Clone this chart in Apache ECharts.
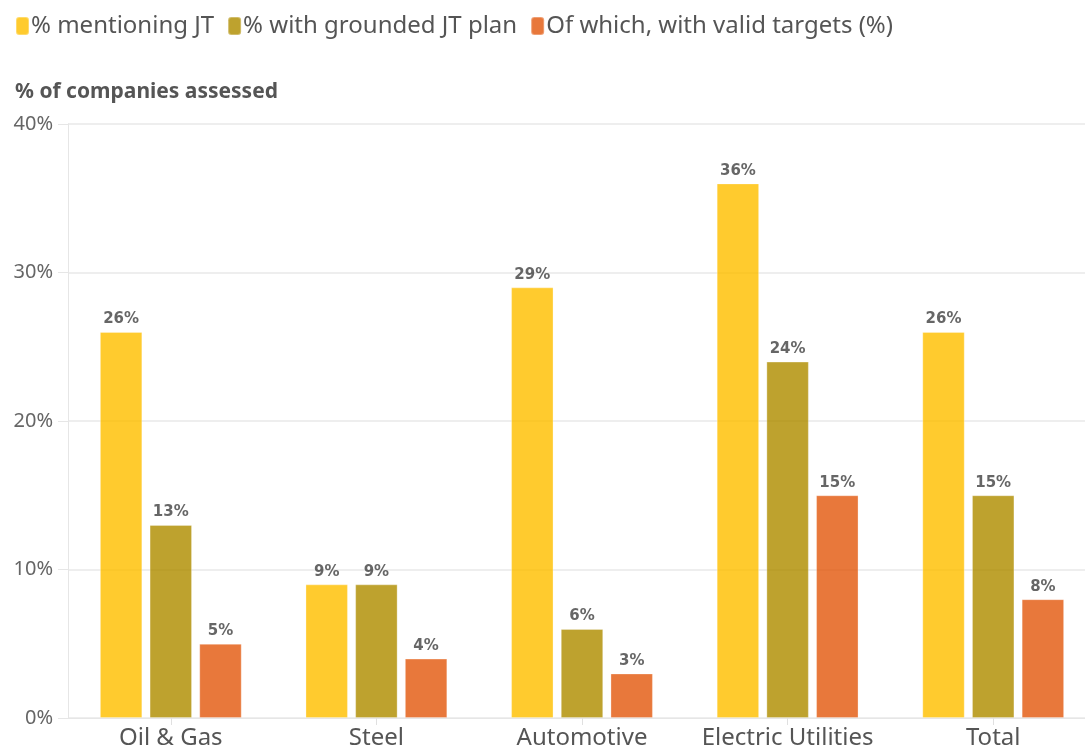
<!DOCTYPE html>
<html>
<head>
<meta charset="utf-8">
<style>
  html, body { margin: 0; padding: 0; background: #fff; overflow: hidden; }
  /* the plot runs slightly past the right edge of the window */
  #chart { width: 1097px; height: 753px; }
</style>
<script src="https://cdn.jsdelivr.net/npm/echarts@6/dist/echarts.min.js"></script>
</head>
<body>
<div id="chart"></div>
<script>
// Sectors and share of companies (%) for each just-transition measure
const categories = ['Oil & Gas', 'Steel', 'Automotive', 'Electric Utilities', 'Total'];
const mentioningJT = [26, 9, 29, 36, 26];
const groundedPlan = [13, 9, 6, 24, 15];
const validTargets = [5, 4, 3, 15, 8];
const yTicks = [0, 10, 20, 30, 40];

const seriesNames = ['% mentioning JT', '% with grounded JT plan', 'Of which, with valid targets (%)'];
const colors = ['#FFC000', '#B08D00', '#E35A10'];
const FONT = '"Noto Sans", "Open Sans", sans-serif';
const LABEL_FONT = '"DejaVu Sans", "Noto Sans", sans-serif';

const chart = echarts.init(document.getElementById('chart'));

function barSeries(name, data, color) {
  return {
    name: name,
    type: 'bar',
    data: data,
    barGap: '17%',
    barCategoryGap: '31%',
    itemStyle: { color: color, opacity: 0.82, borderColor: 'rgba(255,255,255,0.35)', borderWidth: 1 },
    emphasis: { disabled: true },
    label: {
      show: true,
      position: 'top',
      distance: 5,
      formatter: p => p.value + '%',
      fontFamily: LABEL_FONT,
      fontWeight: 'bold',
      fontSize: 15,
      color: '#444'
    }
  };
}

chart.setOption({
  animation: false,
  color: colors,
  textStyle: { fontFamily: FONT },
  legend: {
    left: 10,
    top: 9,
    itemWidth: 13,
    itemHeight: 18,
    itemGap: 13,
    icon: 'roundRect',
    textStyle: { fontSize: 24, color: '#555', fontFamily: FONT, padding: [0, 0, 0, -3] },
    data: seriesNames
  },
  title: {
    text: '% of companies assessed',
    left: 10,
    top: 77,
    textStyle: { fontSize: 21, fontWeight: 'bold', color: '#555', fontFamily: FONT }
  },
  grid: { left: 68, right: 1, top: 124, bottom: 35, containLabel: false },
  xAxis: {
    type: 'category',
    data: categories,
    axisLine: { show: true, lineStyle: { color: '#e6e6e6', width: 1 } },
    axisTick: { show: true, alignWithLabel: true, length: 7, lineStyle: { color: '#e0e0e0' } },
    axisLabel: { fontSize: 24, color: '#555', margin: 8, fontFamily: FONT, interval: 0 }
  },
  yAxis: {
    type: 'value',
    min: yTicks[0],
    max: yTicks[yTicks.length - 1],
    interval: 10,
    axisLine: { show: true, lineStyle: { color: '#e6e6e6' } },
    axisTick: { show: true, length: 10, lineStyle: { color: '#e6e6e6' } },
    splitLine: { show: true, lineStyle: { color: '#e9e9e9', width: 1.5 } },
    axisLabel: { fontSize: 20, color: '#666', margin: 15, fontFamily: FONT, formatter: v => v + '%' }
  },
  series: [
    barSeries(seriesNames[0], mentioningJT, colors[0]),
    barSeries(seriesNames[1], groundedPlan, colors[1]),
    barSeries(seriesNames[2], validTargets, colors[2])
  ]
});
</script>
</body>
</html>
